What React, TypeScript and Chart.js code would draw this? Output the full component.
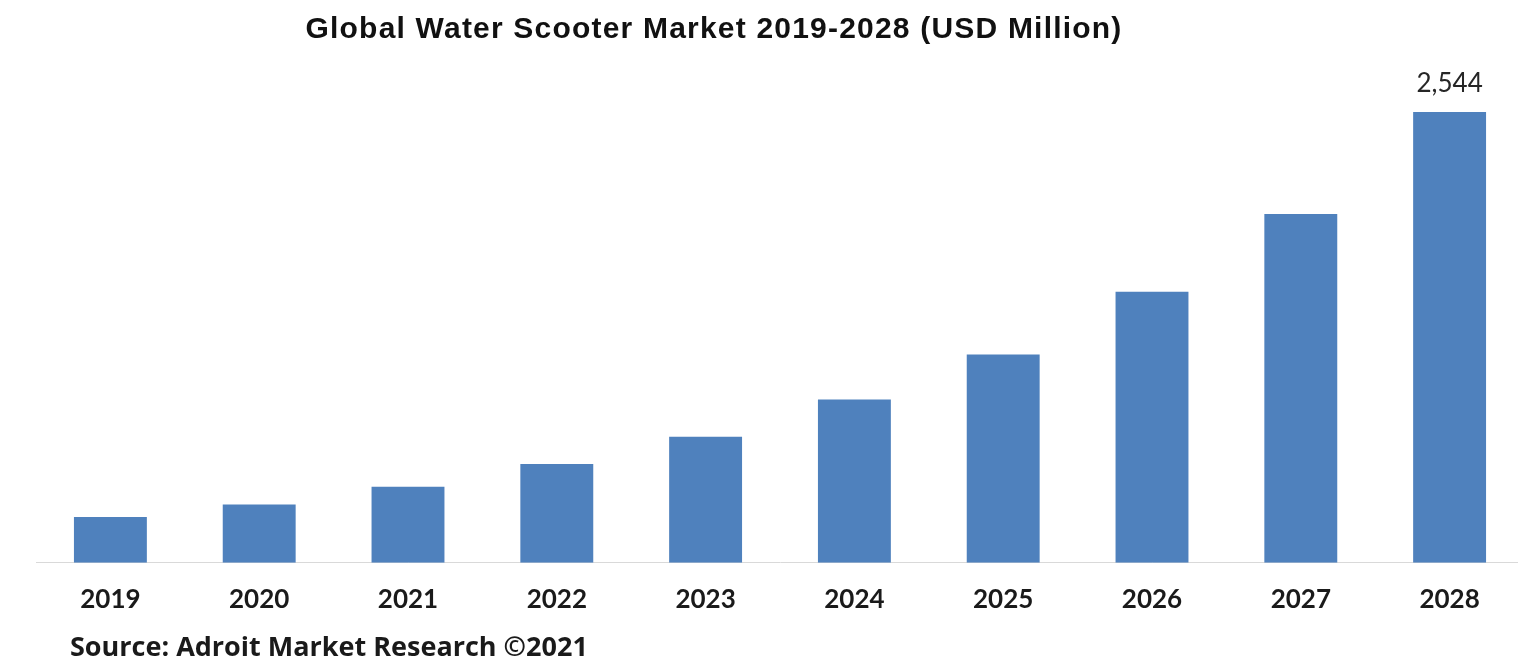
import React, { useEffect, useRef } from "react";
import { Chart, registerables } from "chart.js";

Chart.register(...registerables);

const categories = ["2019", "2020", "2021", "2022", "2023", "2024", "2025", "2026", "2027", "2028"];
const marketValues = [259, 329, 429, 557, 711, 922, 1176, 1529, 1969, 2544];
const labeledIndex = [9];
const titleText = "Global Water Scooter Market 2019-2028 (USD Million)";
const sourceText = "Source: Adroit Market Research ©2021";

const textPlugin = {
  id: "textPlugin",
  afterDraw(chart: any) {
    const ctx = chart.ctx;
    ctx.save();
    // title
    ctx.fillStyle = "#111111";
    ctx.font = "bold 30px 'Liberation Sans', Arial, sans-serif";
    (ctx as any).letterSpacing = "1.2px";
    ctx.textAlign = "center";
    ctx.textBaseline = "alphabetic";
    ctx.fillText(titleText, 714, 38);
    // source
    (ctx as any).letterSpacing = "0px";
    ctx.font = "bold 27px 'Open Sans', 'Noto Sans', sans-serif";
    ctx.textAlign = "left";
    ctx.fillStyle = "#1a1a1a";
    ctx.fillText(sourceText, 70, 656);
    // data label
    const meta = chart.getDatasetMeta(0);
    ctx.font = "26px Lato, 'Noto Sans', sans-serif";
    ctx.textAlign = "center";
    ctx.fillStyle = "#262626";
    labeledIndex.forEach((i) => {
      const el = meta.data[i];
      ctx.fillText(marketValues[i].toLocaleString("en-US"), el.x, el.y - 20);
    });
    ctx.restore();
  },
};

export default function App() {
  const ref = useRef<HTMLCanvasElement>(null);
  useEffect(() => {
    document.body.style.margin = "0";
    document.body.style.overflow = "hidden";
    const chart = new Chart(ref.current!, {
      type: "bar",
      data: {
        labels: categories,
        datasets: [
          {
            data: marketValues,
            backgroundColor: "#4f81bd",
            categoryPercentage: 1,
            barPercentage: 0.49,
          },
        ],
      },
      options: {
        animation: false,
        responsive: false,
        devicePixelRatio: 1,
        layout: { padding: { top: 112, left: 36, right: 0, bottom: 24 } },
        plugins: { legend: { display: false }, tooltip: { enabled: false }, title: { display: false } },
        scales: {
          y: { display: false, min: 0, max: 2544 },
          x: {
            grid: { display: false, drawTicks: false },
            border: { display: true, color: "#d9d9d9", width: 1 },
            ticks: {
              padding: 21,
              color: "#1a1a1a",
              font: { family: "Lato, 'Noto Sans', sans-serif", size: 26, weight: "bold" },
            },
          },
        },
      },
      plugins: [textPlugin],
    });
    return () => chart.destroy();
  }, []);
  return (
    <div style={{ width: 1524, height: 660 }}>
      <canvas ref={ref} width={1524} height={660} />
    </div>
  );
}
